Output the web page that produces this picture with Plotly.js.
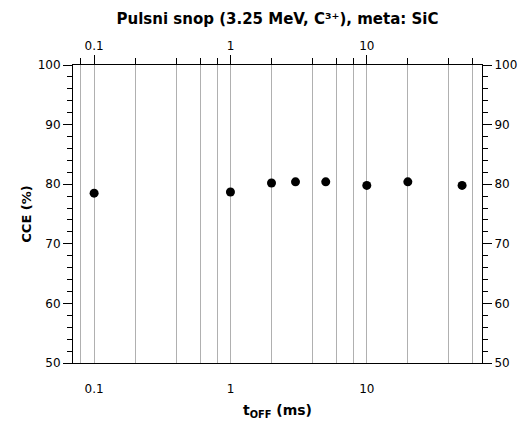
<!DOCTYPE html>
<html><head><meta charset="utf-8">
<script src="https://cdn.plot.ly/plotly-3.0.1.min.js"></script>
<style>body{margin:0;padding:0;background:#fff}</style>
</head><body>
<div id="chart" style="width:523px;height:424px"></div>
<script>
// Data
const tOff = [0.1, 1, 2, 3, 5, 10, 20, 50];          // ms
const cce  = [78.5, 78.7, 80.2, 80.4, 80.4, 79.8, 80.4, 79.8]; // %
const xGridVals = [0.08,0.1,0.2,0.4,0.6,0.8,1,2,4,6,8,10,20,40,60];
const xMajorVals = [0.1, 1, 10];
const xMajorText = ['0.1', '1', '10'];
const yMajorVals = [50, 60, 70, 80, 90, 100];
const yMinorVals = [52,54,56,58,62,64,66,68,72,74,76,78,82,84,86,88,92,94,96,98];

const font = 'DejaVu Sans, Verdana, sans-serif';
const xr = [Math.log10(0.07), Math.log10(70)];

const trace = {
  x: tOff, y: cce, type: 'scatter', mode: 'markers',
  marker: {color: '#000', size: 9}, showlegend: false,
  xaxis: 'x', yaxis: 'y'
};
const dummy = {x: [1], y: [75], xaxis: 'x2', yaxis: 'y2', mode: 'markers',
  marker: {opacity: 0}, showlegend: false, hoverinfo: 'skip'};

const layout = {
  width: 523, height: 424,
  margin: {l: 73, r: 41, t: 65, b: 61},
  paper_bgcolor: '#fff', plot_bgcolor: '#fff',
  font: {family: font, size: 12, color: '#000'},
  title: {text: '<b>Pulsni snop (3.25 MeV, C³⁺), meta: SiC</b>',
    font: {family: font, size: 15, color: '#000'},
    x: 0.5, xref: 'paper', xanchor: 'center', y: 0.955, yref: 'container', yanchor: 'middle'},
  xaxis: {
    type: 'log', range: xr, tickmode: 'array', tickvals: xMajorVals, ticktext: xMajorText,
    ticks: 'outside', ticklen: 15, tickcolor: 'rgba(0,0,0,0)', showgrid: false, showline: true, linecolor: '#000', linewidth: 1,
    mirror: false, zeroline: false,
    minor: {tickmode: 'array', tickvals: xGridVals, showgrid: true, gridcolor: '#b0b0b0', gridwidth: 1, ticks: ''},
    tickfont: {family: font, size: 12},
    title: {text: '<b>t<sub>OFF</sub> (ms)</b>', font: {family: font, size: 14}, standoff: 9}
  },
  xaxis2: {
    type: 'log', range: xr, overlaying: 'x', side: 'top', anchor: 'y',
    tickmode: 'array', tickvals: xMajorVals, ticktext: xMajorText,
    ticks: 'outside', ticklen: 9, tickcolor: '#000', tickwidth: 1,
    minor: {tickmode: 'array', tickvals: xGridVals, ticks: 'outside', ticklen: 6, tickcolor: '#000', showgrid: false},
    showgrid: false, showline: true, linecolor: '#000', zeroline: false,
    tickfont: {family: font, size: 12}
  },
  yaxis: {
    range: [50, 100], tickmode: 'array', tickvals: yMajorVals,
    ticks: 'outside', ticklen: 9, tickcolor: '#000', showgrid: false, zeroline: false,
    showline: true, linecolor: '#000',
    minor: {tickmode: 'array', tickvals: yMinorVals, ticks: 'outside', ticklen: 5, tickcolor: '#000'},
    tickfont: {family: font, size: 12},
    title: {text: '<b>CCE (%)</b>', font: {family: font, size: 13}, standoff: 3}
  },
  yaxis2: {
    range: [50, 100], overlaying: 'y', side: 'right', anchor: 'x',
    tickmode: 'array', tickvals: yMajorVals,
    ticks: 'outside', ticklen: 9, tickcolor: '#000', showgrid: false, zeroline: false,
    showline: true, linecolor: '#000',
    minor: {tickmode: 'array', tickvals: yMinorVals, ticks: 'outside', ticklen: 5, tickcolor: '#000'},
    tickfont: {family: font, size: 12}
  }
};
Plotly.newPlot('chart', [trace, dummy], layout, {displayModeBar: false, staticPlot: true});
</script>
</body></html>
